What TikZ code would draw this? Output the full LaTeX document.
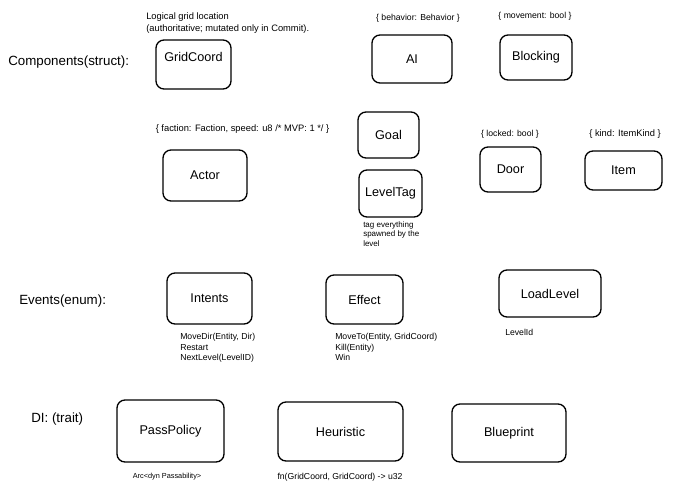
\documentclass[tikz,border=0pt]{standalone}
\usepackage{fontspec}
\setmainfont{Liberation Sans}
\begin{document}
\begin{tikzpicture}[x=0.75pt,y=0.75pt,yscale=-1,xscale=1,
  box/.style={draw, line width=1pt, rounded corners=6pt, inner sep=0pt, font=\fontsize{9.5}{11}\selectfont},
  head/.style={inner sep=0.75pt, font=\fontsize{10}{12}\selectfont},
  note/.style={inner sep=0.75pt, align=left, font=\fontsize{7}{9}\selectfont},
  tiny/.style={inner sep=0.75pt, align=left, font=\fontsize{6.5}{7.9}\selectfont}]
\useasboundingbox (0,0) rectangle (695,500);

% Text Node
\node (components) [head, anchor=west] at (7,62) {Components(struct):};
% Text Node
\node (events) [head, anchor=west] at (18,301) {Events(enum):};
% Text Node
\node (di) [head, anchor=west] at (30,419) {DI: (trait)};

%Shape: Rounded Rect -- components
\node (gridcoord) [box, minimum width=56.25pt, minimum height=36.75pt, text depth=11pt] at (193.5,64.5) {GridCoord};
\node (ai) [box, minimum width=60pt, minimum height=36pt] at (412,59) {AI};
\node (blocking) [box, minimum width=54pt, minimum height=33.75pt] at (536,57.5) {Blocking};
\node (actor) [box, minimum width=63pt, minimum height=38.25pt] at (205,175.5) {Actor};
\node (goal) [box, minimum width=45.75pt, minimum height=34.5pt] at (388.5,135) {Goal};
\node (leveltag) [box, minimum width=47.25pt, minimum height=35.25pt] at (390.5,193.5) {LevelTag};
\node (door) [box, minimum width=45.75pt, minimum height=33.75pt] at (510.5,169.5) {Door};
\node (item) [box, minimum width=57.75pt, minimum height=29.25pt] at (623.5,170.5) {Item};

%Shape: Rounded Rect -- events
\node (intents) [box, minimum width=63.75pt, minimum height=38.25pt] at (209.5,298.5) {Intents};
\node (effect) [box, minimum width=57.75pt, minimum height=36.75pt] at (364.5,299.5) {Effect};
\node (loadlevel) [box, minimum width=76.5pt, minimum height=35.25pt] at (550,293.5) {LoadLevel};

%Shape: Rounded Rect -- traits
\node (passpolicy) [box, minimum width=80.25pt, minimum height=46.5pt] at (170.5,431) {PassPolicy};
\node (heuristic) [box, minimum width=93.75pt, minimum height=44.25pt] at (340.5,431.5) {Heuristic};
\node (blueprint) [box, minimum width=85.5pt, minimum height=43.5pt] at (509,433) {Blueprint};

% Text Node
\node (gridnote) [note, anchor=north west] at (145,11) {Logical grid location\\(authoritative; mutated only in Commit).};
% Text Node
\node (ainote) [tiny] at (418,18) {\{ behavior: Behavior \}};
% Text Node
\node (blocknote) [tiny] at (535,16) {\{ movement: bool \}};
% Text Node
\node (actornote) [note] at (242.5,129) {\{ faction: Faction, speed: u8 /* MVP: 1 */ \}};
% Text Node
\node (doornote) [tiny] at (510,134) {\{ locked: bool \}};
% Text Node
\node (itemnote) [note] at (625,134) {\{ kind: ItemKind \}};
% Text Node
\node (tagnote) [tiny, anchor=north west, font=\fontsize{6}{7.2}\selectfont] at (362,220) {tag everything\\spawned by the\\level};

% Text Node
\node (intentsvars) [tiny, anchor=north west] at (179,332) {MoveDir(Entity, Dir)\\Restart\\NextLevel(LevelID)};
% Text Node
\node (effectvars) [tiny, anchor=north west] at (334,332) {MoveTo(Entity, GridCoord)\\Kill(Entity)\\Win};
% Text Node
\node (loadvars) [tiny, anchor=north west] at (504,328) {LevelId};

% Text Node
\node (passnote) [tiny, font=\fontsize{5.5}{7}\selectfont] at (167,477) {Arc<dyn Passability>};
% Text Node
\node (heurnote) [tiny] at (340,477) {fn(GridCoord, GridCoord) -> u32};

\end{tikzpicture}
\end{document}
